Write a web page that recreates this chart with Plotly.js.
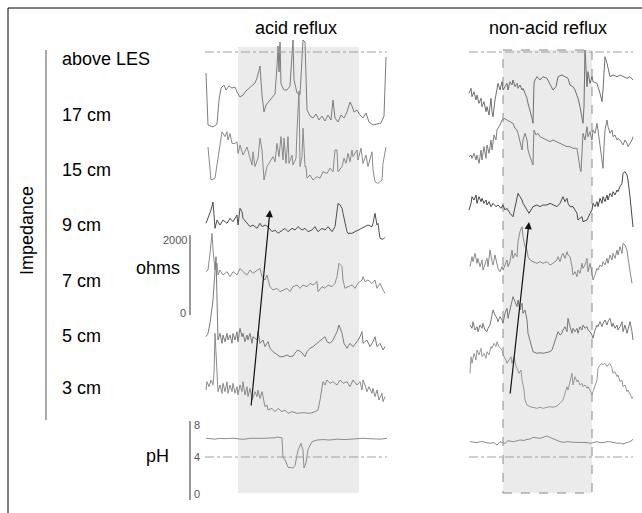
<!DOCTYPE html>
<html><head><meta charset="utf-8">
<script src="https://cdn.plot.ly/plotly-3.0.1.min.js"></script>
<style>html,body{margin:0;padding:0;background:#fff}#chart{width:642px;height:513px}</style>
</head><body><div id="chart"></div>
<script>
// ---------------- DATA ----------------
const channelLabels = ['above LES','17 cm','15 cm','9 cm','7 cm','5 cm','3 cm'];
const panelTitles = ['acid reflux','non-acid reflux'];

// acid reflux episode: time (s) and impedance (ohms) per channel
const tAcid17 = [1,3,8,12,14,16,19,21,24,27,30,32,35,38,41,44,47,50,52,54,55,57,59,61,64,67,70,72,73,74,75,76,79,82,85,87,88,89,92,95,97,98,100,102,105,108,111,114,117,120,123,126,128,130,133,136,139,142,145,147,149,152,155,158,161,164,168,172,176,179,180,181];
const ohmAcid17 = [2175,875,825,900,1500,1800,1875,1750,1850,1800,1825,1700,1575,1625,1725,1800,1850,1925,2050,2250,2350,1625,1200,1375,1475,1550,1650,2350,2850,2200,2950,1900,1750,1750,1850,2625,3000,2000,1675,1625,2750,3000,2950,1250,1100,1050,1150,1000,1100,975,1125,1000,1500,1050,950,1125,1050,1200,1450,1350,1200,1250,1125,1050,1175,950,875,900,925,1100,2125,2575];
const tAcid15 = [3,6,10,15,17,20,22,23,25,27,30,32,33,35,38,42,45,47,48,50,53,55,57,59,62,65,68,70,72,74,76,78,79,81,83,84,87,88,91,92,94,95,97,98,100,101,102,105,108,112,115,118,122,125,128,130,132,133,137,139,141,143,145,147,148,152,153,156,158,161,163,167,168,170,173,177,178,181];
const ohmAcid15 = [1700,875,920,1790,2080,1960,2080,1875,2040,1790,1790,1830,1540,1750,1500,1700,1460,1250,1580,1210,1420,1920,1625,875,1210,1330,1460,1330,1790,1460,1960,1375,1920,1290,1960,1290,1500,1250,1420,2125,3100,1210,1460,2170,1210,1210,920,1000,875,960,920,1080,1040,1170,1080,1625,1625,1080,1210,1420,1290,1540,1330,1625,1460,1625,1375,1670,1290,1500,1210,1580,1125,830,790,875,1290,1700];
const tAcid9 = [1,3,6,8,10,12,15,18,22,25,28,32,33,35,37,38,42,45,48,52,55,57,60,63,67,70,73,77,80,83,87,90,93,97,100,103,107,110,113,117,120,123,127,130,132,133,135,137,138,140,142,143,147,150,153,157,160,163,167,168,170,172,173,175,178,180];
const ohmAcid9 = [1167,1292,1500,1700,1042,1250,1125,1250,1167,1292,1208,1375,1125,1542,1458,1292,1167,1083,1125,1042,1167,1083,1125,1083,958,1000,917,1000,1042,958,1042,1000,1083,1000,1042,958,1000,1083,958,1042,1000,1083,958,1083,1417,1667,1625,1542,1417,1167,958,917,917,958,1000,1042,1083,1125,1083,1167,1417,1125,1167,792,767,817];
const tAcid7 = [1,3,5,7,8,10,12,13,15,18,22,25,28,32,35,38,42,45,48,52,55,57,60,62,65,68,72,75,78,82,85,88,92,95,98,102,105,108,112,113,117,120,123,127,130,132,134,137,138,140,143,147,150,153,157,158,160,163,167,170,172,175,178,180];
const ohmAcid7 = [1358,1400,1817,2317,1900,1400,1567,1275,1400,1275,1358,1233,1358,1275,1442,1358,1275,1400,1317,1400,1442,1233,1150,1275,983,900,942,858,900,942,858,983,1025,942,1025,983,1067,1025,1108,858,983,942,1025,983,1067,1233,1567,1483,1150,942,983,1025,942,1067,1150,1233,1108,1150,1067,1150,942,1067,900,817];
const tAcid5 = [1,3,5,8,11,12,13,15,17,18,20,22,23,25,27,28,30,32,33,35,37,38,40,42,43,45,47,48,52,53,55,58,60,63,65,68,72,75,78,82,85,88,91,93,97,100,102,105,108,112,115,118,120,122,125,128,132,134,137,139,142,145,148,152,155,157,158,162,165,168,170,172,175,178,180];
const ohmAcid5 = [1108,1192,1442,2025,3108,2000,1025,1192,942,1150,983,1192,1025,1150,942,1192,1025,1233,983,1317,1108,1192,983,1150,1025,1192,942,1108,1025,1233,942,1025,858,983,817,733,650,608,608,650,608,625,733,775,708,608,733,817,858,942,1025,1067,1108,983,942,1025,1233,1400,1192,942,817,942,858,983,1108,1233,942,1025,858,983,1108,858,942,775,858];
const tAcid3 = [1,2,4,6,8,9,10,12,13,15,17,18,20,22,23,25,27,28,30,32,33,35,37,38,40,42,43,45,47,50,52,53,55,57,58,60,62,63,67,70,73,77,80,83,87,92,98,105,110,113,115,117,118,120,122,125,128,132,135,138,142,145,148,152,155,157,158,160,162,164,167,168,170,172,174,177,178,180];
const ohmAcid3 = [1075,1283,1158,1325,1200,1492,2492,1325,1033,1200,992,1242,1033,1283,992,1200,1033,1242,992,1158,950,1200,1033,1283,950,1158,908,1117,825,1033,908,1075,867,1033,867,658,700,575,617,533,617,533,575,492,533,492,508,492,533,575,825,1158,1283,1200,1325,1242,1283,1200,1325,1242,1283,1158,1325,1200,1283,1075,1325,1200,1033,1158,992,1117,908,1075,825,992,783,908];
const tAcidPH = [1,5,10,15,20,25,30,35,40,45,50,55,60,65,70,72,75,77,78,80,83,86,88,90,93,96,98,99,101,103,107,112,118,125,132,140,148,158,165,170,176,182];
const phAcid = [6.2,6.15,6.1,6.2,6.15,6.2,6.2,6.1,6.1,6.2,6.2,6.15,6.2,6.25,6.25,6.35,6.3,6.25,3.9,3.7,2.8,2.7,2.7,3.0,4.8,5.6,4.8,2.7,3.3,4.9,5.8,6.0,6.05,6.0,6.1,6.05,6.1,6.2,6.15,6.15,6.1,6.2];

// non-acid reflux episode
const tNon17 = [0,2,3,5,7,8,10,12,13,15,17,18,20,22,23,24,26,28,29,31,33,34,36,38,39,41,43,44,46,48,49,51,53,54,56,58,59,61,63,64,64.5,65,66,68,71,74,78,81,84,87,89,93,96,99,101,104,106,109,111,113,114,115,116,118,119,121,123,124,128,131,133,134,136,138,139,141,144,148,151,154,158,161,164];
const ohmNon17 = [1667,1792,1583,1708,1500,1625,1417,1542,1333,1458,1208,1333,1125,1542,1208,1083,1500,1792,1917,1750,1958,1750,1833,1917,1750,1958,1875,2000,1833,1917,1792,1875,1750,1792,1667,1542,1417,1250,1042,917,1333,1917,2000,2083,2000,2083,2042,1875,1750,1833,2083,2125,2083,2042,1875,1833,1750,1542,1333,1083,917,1333,2750,1833,2208,1917,2083,1958,1917,1667,1458,1750,2583,2417,2292,2083,2125,2083,2125,2083,2042,2083,2000];
const tNon15 = [0,2,3,5,7,8,10,12,13,15,17,18,20,22,23,25,27,28,30,31,33,35,38,41,44,46,48,49,51,53,54,56,58,59,61,63,64,64.5,65,67,69,71,74,78,81,84,88,91,94,98,101,104,108,109,111,112,113,114,116,118,119,121,123,124,126,128,129,131,133,134,135,136,138,139,141,143,144,146,148,149,151,153,154,156,158,159,161,163,164];
const ohmNon15 = [1458,1500,1417,1542,1375,1500,1292,1625,1375,1708,1417,1750,1542,1875,1625,2000,1875,2125,2208,2250,2375,2417,2375,2333,2292,2167,2125,2042,1792,1625,1875,2042,1875,1625,1458,1292,1250,1792,2125,2000,2042,1958,1917,1875,1833,1875,1833,1792,1750,1708,1708,1667,1667,1458,1167,1083,1458,2042,1875,2208,1958,2083,1875,2125,2042,2292,2125,1708,1292,1167,1708,2125,2375,2208,2042,2125,1958,2000,1875,1917,1875,1792,1750,1875,1792,1708,1792,1875,1958];
const tNon9 = [0,2,3,5,7,8,10,12,13,15,17,18,20,22,24,27,29,32,34,36,38,41,44,46,48,49,51,53,54,56,58,60,63,64,68,71,74,78,81,84,88,91,93,94,96,98,99,101,104,106,108,109,113,114,118,121,123,124,126,128,129,131,133,134,136,138,139,141,143,144,146,148,149,151,153,154,156,158,159,161,163,164];
const ohmNon9 = [1500,1667,1833,1750,1875,1667,1833,1708,1792,1667,1750,1625,1708,1583,1667,1583,1625,1542,1625,1500,1542,1417,1333,1583,1792,1917,1833,1750,1667,1583,1500,1417,1542,1583,1625,1583,1625,1625,1667,1625,1583,1667,1792,1833,1708,1792,1667,1583,1583,1500,1417,1250,1333,1208,1250,1417,1500,1667,1583,1708,1583,1792,1667,1833,1708,1875,1750,1917,1833,1958,1875,2000,1958,2083,2167,2417,2458,2375,2250,1833,1250,1075];
const tNon7 = [1,3,4,6,8,9,11,13,14,16,18,19,21,23,24,26,28,29,31,33,34,36,38,39,41,43,44,46,48,49,51,53,54,56,58,59,61,64,68,71,74,78,81,84,88,89,91,93,94,96,98,99,101,103,104,106,108,109,111,113,114,116,118,119,121,123,124,126,128,129,131,133,134,136,138,139,141,143,144,146,148,149,151,153,154,156,158,159,161,163];
const ohmNon7 = [1483,1733,1608,1817,1567,1692,1483,1650,1400,1567,1692,1483,1900,1608,1525,1775,1567,1442,1358,1483,1400,1525,1650,1483,1608,1900,1692,1817,1733,2108,2358,2483,2233,1983,1900,1733,1650,1608,1567,1608,1567,1608,1525,1567,1650,1733,1608,1775,1817,1692,1858,1775,1733,1483,1275,1358,1233,1400,1317,1567,1442,1525,1692,1358,1567,1317,1150,1275,1442,1400,1525,1483,1608,1525,1692,1567,1775,1650,1817,1692,1900,1775,1983,1817,2067,2025,1900,1692,1400,1067];
const tNon5 = [1,3,4,6,8,9,11,13,14,16,18,19,21,23,24,26,28,29,31,33,34,36,38,39,41,43,44,46,48,49,51,53,54,56,58,59,61,63,64,68,71,74,78,81,83,84,86,88,89,91,93,94,96,98,99,101,103,104,106,108,109,111,113,114,116,118,119,121,123,124,126,128,129,131,133,134,136,138,139,141,143,144,146,148,149,151,153,154,156,158,159,161,163,164];
const ohmNon5 = [1400,1317,1483,1275,1358,1233,1400,1317,1442,1275,1233,1317,1400,1608,1775,1650,1567,1483,1608,1525,1442,1692,1817,1567,1775,2025,2108,1983,1858,2025,1775,1942,1692,1775,1525,1192,1025,858,733,692,708,692,708,733,775,858,1025,1192,1233,1150,1192,1275,1358,1233,1567,1358,1192,1317,1233,1317,1192,1358,1275,1400,1317,1358,1275,1233,1150,1067,1275,1400,1358,1483,1358,1442,1525,1400,1483,1567,1358,1442,1317,1400,1275,1358,1483,1233,1400,1192,1317,1483,1233,1025];
const tNon3 = [1,2,3,5,7,8,10,12,13,15,17,18,20,22,23,25,27,28,30,32,33,35,37,38,40,42,43,45,47,48,50,52,53,55,56,58,61,64,68,71,74,78,81,84,88,91,94,96,98,99,101,103,104,106,108,109,111,113,114,116,118,119,121,123,124,126,128,129,131,133,134,136,138,139,141,143,144,146,148,149,151,153,154,156,158,159,161,163,164];
const ohmNon3 = [1492,1908,1742,1992,1825,2075,1950,2117,1908,1992,1867,2033,1950,2158,2117,2242,2158,2283,2158,2117,2075,1908,1825,1742,1825,1908,1742,1908,1658,1617,1492,1575,1325,1075,825,700,658,642,617,642,617,642,658,642,675,742,825,992,1158,1075,1325,1492,1200,1408,1283,1325,1200,1242,1158,1200,1117,1158,1075,950,1033,1158,1325,1617,1700,1742,1700,1742,1658,1700,1742,1617,1492,1533,1408,1450,1283,1325,1158,1200,1033,1075,950,867,908];
const tNonPH = [1,4,8,11,14,17,21,25,28,31,34,36,39,42,44,48,51,55,58,61,64,68,71,75,78,81,85,88,91,94,99,104,109,114,118,121,125,128,131,134,138,141,145,148,151,154,158,161,164];
const phNon = [5.8,5.75,5.69,5.8,5.8,5.7,5.61,5.7,5.41,5.8,5.65,5.61,5.92,5.8,5.8,5.9,6.0,5.95,6.08,6.1,6.31,6.25,6.2,6.35,6.47,6.31,6.1,5.92,5.8,5.73,5.8,5.73,5.75,5.69,5.7,5.61,5.75,5.8,5.7,5.69,5.8,5.8,5.7,5.61,5.65,5.53,5.7,5.8,6.08];

// reflux episode windows (s) and record lengths (s)
const refluxAcid = [33, 154];
const refluxNon = [34, 123];
const recordAcid = [0, 182];
const recordNon = [0, 164];
const phThreshold = 4;
const ohmScale = [0, 2000];
const phScale = [0, 4, 8];

// ---------------- GEOMETRY ----------------
const W = 642, H = 513;
const FONT = 'Liberation Sans, Arial, sans-serif';
const acidOriginPx = 205, nonOriginPx = 469;
const zeroRow = [160, 215, 270, 326, 381, 433];   // pixel row of 0 ohm per channel
const ohmPerPx = 25;
const ph4Row = 457, pxPerPH = 8.5;
const labelRows = [59, 115, 170, 225, 281, 336, 388];

const px = p => p / W;
const py = p => 1 - p / H;

const acidT = [tAcid17, tAcid15, tAcid9, tAcid7, tAcid5, tAcid3];
const acidV = [ohmAcid17, ohmAcid15, ohmAcid9, ohmAcid7, ohmAcid5, ohmAcid3];
const nonT = [tNon17, tNon15, tNon9, tNon7, tNon5, tNon3];
const nonV = [ohmNon17, ohmNon15, ohmNon9, ohmNon7, ohmNon5, ohmNon3];
const acidColors = ['#7c7c7c', '#8a8a8a', '#4e4e4e', '#8c8c8c', '#7a7a7a', '#8a8a8a'];
const nonColors = ['#6e6e6e', '#7e7e7e', '#484848', '#8a8a8a', '#777777', '#989898'];

const yName = i => (i === 0 ? 'y' : 'y' + (i + 1));
const traces = [];
for (let i = 0; i < 6; i++) {
  traces.push({x: acidT[i], y: acidV[i], xaxis: 'x', yaxis: yName(i), type: 'scatter', mode: 'lines',
    line: {color: acidColors[i], width: 1}, hoverinfo: 'skip', showlegend: false});
  traces.push({x: nonT[i], y: nonV[i], xaxis: 'x2', yaxis: yName(i), type: 'scatter', mode: 'lines',
    line: {color: nonColors[i], width: 1}, hoverinfo: 'skip', showlegend: false});
}
traces.push({x: tAcidPH, y: phAcid, xaxis: 'x', yaxis: 'y7', type: 'scatter', mode: 'lines',
  line: {color: '#8c8c8c', width: 1}, hoverinfo: 'skip', showlegend: false});
traces.push({x: tNonPH, y: phNon, xaxis: 'x2', yaxis: 'y7', type: 'scatter', mode: 'lines',
  line: {color: '#8c8c8c', width: 1}, hoverinfo: 'skip', showlegend: false});

const hidden = {visible: false, showgrid: false, zeroline: false, fixedrange: true};
const layout = {
  width: W, height: H, autosize: false,
  margin: {l: 0, r: 0, t: 0, b: 0, pad: 0},
  paper_bgcolor: '#ffffff', plot_bgcolor: 'rgba(0,0,0,0)',
  showlegend: false,
  font: {family: FONT, color: '#000'},
  xaxis: Object.assign({domain: [0, 1], range: [-acidOriginPx, W - acidOriginPx], anchor: 'y'}, hidden),
  xaxis2: Object.assign({overlaying: 'x', range: [-nonOriginPx, W - nonOriginPx], anchor: 'y'}, hidden),
  shapes: [], annotations: []
};
for (let i = 0; i < 6; i++) {
  const ax = Object.assign({range: [ohmPerPx * (zeroRow[i] - H), ohmPerPx * zeroRow[i]], anchor: 'x'}, hidden);
  if (i === 0) ax.domain = [0, 1]; else ax.overlaying = 'y';
  layout['yaxis' + (i === 0 ? '' : i + 1)] = ax;
}
layout.yaxis7 = Object.assign({overlaying: 'y', anchor: 'x',
  range: [phThreshold - (H - ph4Row) / pxPerPH, phThreshold + ph4Row / pxPerPH]}, hidden);

const S = layout.shapes, A = layout.annotations;
// reflux windows
S.push({type: 'rect', xref: 'x', yref: 'paper', x0: refluxAcid[0], x1: refluxAcid[1], y0: py(493), y1: py(47),
  fillcolor: '#ebebeb', line: {width: 0}, layer: 'below'});
S.push({type: 'rect', xref: 'x2', yref: 'paper', x0: refluxNon[0], x1: refluxNon[1], y0: py(493), y1: py(50),
  fillcolor: '#ebebeb', line: {width: 1, color: '#8a8a8a', dash: 'dash'}, layer: 'below'});
// above-LES reference line and pH 4 threshold line
[['x', recordAcid], ['x2', recordNon]].forEach(([xr, rec]) => {
  S.push({type: 'line', xref: xr, yref: 'paper', x0: rec[0], x1: rec[1], y0: py(52), y1: py(52),
    line: {color: '#a0a0a0', width: 1, dash: 'dashdot'}});
  S.push({type: 'line', xref: xr, yref: 'y7', x0: rec[0], x1: rec[1], y0: phThreshold, y1: phThreshold,
    line: {color: '#a0a0a0', width: 1, dash: 'dashdot'}});
});
// frame
S.push({type: 'rect', xref: 'paper', yref: 'paper', x0: px(8), x1: px(680), y0: py(540), y1: py(8),
  line: {color: '#000', width: 1}, fillcolor: 'rgba(0,0,0,0)'});
// impedance bracket
S.push({type: 'line', xref: 'paper', yref: 'paper', x0: px(46), x1: px(46), y0: py(50), y1: py(420),
  line: {color: '#555', width: 1}});
// ohms scale bar & pH scale bar
S.push({type: 'line', xref: 'paper', yref: 'paper', x0: px(190), x1: px(190), y0: py(235), y1: py(315),
  line: {color: '#333', width: 1}});
S.push({type: 'line', xref: 'paper', yref: 'paper', x0: px(190), x1: px(190), y0: py(421), y1: py(500),
  line: {color: '#333', width: 1}});

function txt(t, x, y, opts) {
  A.push(Object.assign({text: t, xref: 'paper', yref: 'paper', x: px(x), y: py(y), showarrow: false,
    xanchor: 'left', yanchor: 'middle', font: {family: FONT, size: 18, color: '#000'}}, opts || {}));
}
txt(panelTitles[0], 296, 28, {xanchor: 'center'});
txt(panelTitles[1], 548, 28, {xanchor: 'center'});
channelLabels.forEach((l, i) => txt(l, 60, labelRows[i]));
txt('Impedance', 27, 231, {xanchor: 'center', textangle: -90});
txt('ohms', 158, 268, {xanchor: 'center'});
txt('pH', 157, 456, {xanchor: 'center'});
const small = {family: FONT, size: 11, color: '#555555'};
txt(String(ohmScale[1]), 189, 240, {xanchor: 'right', font: small});
txt(String(ohmScale[0]), 188, 313, {xanchor: 'right', font: small});
txt(String(phScale[2]), 192, 425, {font: small});
txt(String(phScale[1]), 192, 457, {font: small});
txt(String(phScale[0]), 192, 494, {font: small});

// propagation arrows (retrograde bolus movement)
function arrow(hx, hy, tx, ty) {
  A.push({text: '', xref: 'paper', yref: 'paper', x: px(hx), y: py(hy), ax: tx - hx, ay: ty - hy,
    axref: 'pixel', ayref: 'pixel', showarrow: true, arrowhead: 2, arrowsize: 1.2, arrowwidth: 1.2,
    arrowcolor: '#111', standoff: 0, startstandoff: 0});
}
arrow(270, 210, 251, 407);
arrow(529, 222, 510, 395);

Plotly.newPlot('chart', traces, layout, {staticPlot: true, displayModeBar: false});
</script>
</body></html>
